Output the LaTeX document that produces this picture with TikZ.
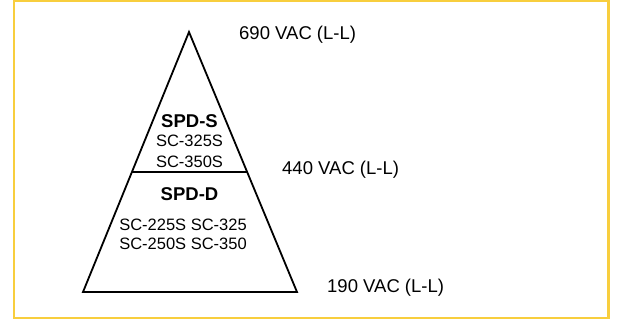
\documentclass[tikz,border=0pt]{standalone}
\usepackage{fontspec}
\setmainfont{Liberation Sans}
\usepackage{tikz}
\usetikzlibrary{calc,positioning}
\definecolor{framegold}{RGB}{248,206,62}
\begin{document}
\begin{tikzpicture}[x=1pt,y=-1pt]

\tikzset{edge/.style={line width=1.8pt,line join=miter},
volt/.style={anchor=base west,inner sep=0,font=\fontsize{18.5}{20}\selectfont},
model/.style={anchor=base,inner sep=0,font=\fontsize{16.5}{20}\selectfont},
family/.style={anchor=base,inner sep=0,font=\fontsize{18.5}{20}\selectfont\bfseries}}

\useasboundingbox (0,0) rectangle (627,325);

% Frame
\draw[framegold,line width=2.5pt] (14,0.5) rectangle (608.5,318);

% Pyramid corners
\coordinate (apex) at (189,32);
\coordinate (baseL) at (83,292);
\coordinate (baseR) at (297,292);
\coordinate (divL) at ($(apex)!0.538!(baseL)$);
\coordinate (divR) at ($(apex)!0.538!(baseR)$);

\draw[edge] (apex) -- (baseR) -- (baseL) -- cycle;
\draw[edge] (divL) -- (divR);

% Voltage levels
\node[volt] (v690) at (239,39.3) {690 VAC (L-L)};
\node[volt] (v440) at (282,174.3) {440 VAC (L-L)};
\node[volt] (v190) at (327,292.3) {190 VAC (L-L)};

% Upper section
\node[family] (spds) at (189.5,127) {SPD-S};
\foreach \n/\y/\lab in {s1/146.7/SC-325S, s2/167/SC-350S}
	\node[model] (\n) at (189.5,\y) {\lab};

% Lower section
\node[family] (spdd) at (189.5,200.7) {SPD-D};
\foreach \n/\y/\lab in {d1/230.7/SC-225S SC-325, d2/249/SC-250S SC-350}
	\node[model] (\n) at (183,\y) {\lab};
\end{tikzpicture}
\end{document}
